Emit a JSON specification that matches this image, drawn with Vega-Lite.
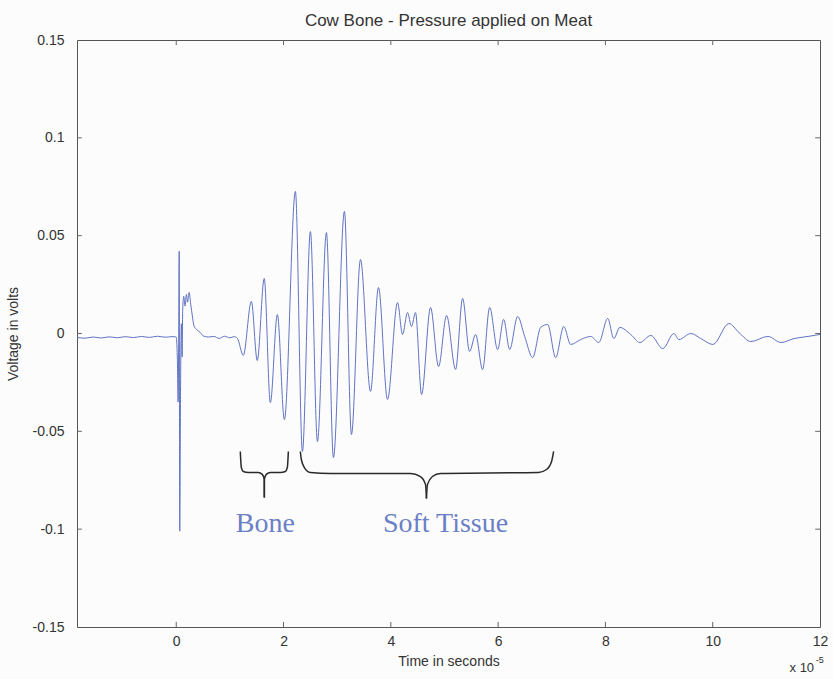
{
  "$schema": "https://vega.github.io/schema/vega-lite/v6.json",
  "width": 743,
  "height": 587,
  "autosize": "none",
  "padding": {"left": 77, "top": 40, "right": 13, "bottom": 52},
  "background": "#fcfcfc",
  "config": {
    "view": {"stroke": "#555555", "strokeWidth": 1},
    "axis": {
      "labelFont": "Liberation Sans",
      "titleFont": "Liberation Sans",
      "labelFontSize": 14,
      "titleFontSize": 14,
      "labelColor": "#333333",
      "titleColor": "#333333",
      "titleFontWeight": "normal",
      "domain": false,
      "grid": false,
      "ticks": false
    }
  },
  "title": {
    "text": "Cow Bone - Pressure applied on Meat",
    "font": "Liberation Sans",
    "fontSize": 17,
    "fontWeight": "normal",
    "color": "#333333",
    "offset": 3
  },
  "datasets": {
    "signal": [
      {"t": -1.85, "v": -0.0020}, {"t": -1.7, "v": -0.0024}, {"t": -1.55, "v": -0.0018},
      {"t": -1.4, "v": -0.0023}, {"t": -1.25, "v": -0.0017}, {"t": -1.1, "v": -0.0022},
      {"t": -0.95, "v": -0.0016}, {"t": -0.8, "v": -0.0021}, {"t": -0.65, "v": -0.0015},
      {"t": -0.5, "v": -0.0020}, {"t": -0.35, "v": -0.0014}, {"t": -0.2, "v": -0.0019},
      {"t": -0.08, "v": -0.0016}, {"t": 0.0, "v": -0.0018},
      {"t": 0.02, "v": -0.012}, {"t": 0.035, "v": -0.035}, {"t": 0.045, "v": -0.005},
      {"t": 0.055, "v": 0.042}, {"t": 0.065, "v": -0.101}, {"t": 0.08, "v": -0.03},
      {"t": 0.095, "v": 0.005}, {"t": 0.11, "v": -0.012}, {"t": 0.12, "v": 0.012},
      {"t": 0.14, "v": 0.019}, {"t": 0.165, "v": 0.014}, {"t": 0.19, "v": 0.020},
      {"t": 0.21, "v": 0.016}, {"t": 0.24, "v": 0.021}, {"t": 0.27, "v": 0.015},
      {"t": 0.3, "v": 0.009}, {"t": 0.33, "v": 0.004}, {"t": 0.38, "v": 0.002},
      {"t": 0.45, "v": 0.0005}, {"t": 0.5, "v": -0.0012}, {"t": 0.6, "v": -0.0018},
      {"t": 0.7, "v": -0.0015}, {"t": 0.8, "v": -0.0025}, {"t": 0.9, "v": -0.0014},
      {"t": 1.0, "v": -0.0022}, {"t": 1.08, "v": -0.0016}, {"t": 1.14, "v": -0.0025},
      {"t": 1.25, "v": -0.0112}, {"t": 1.40, "v": 0.0164}, {"t": 1.51, "v": -0.0138},
      {"t": 1.64, "v": 0.0281}, {"t": 1.754, "v": -0.0353}, {"t": 1.885, "v": 0.0097},
      {"t": 2.016, "v": -0.044}, {"t": 2.221, "v": 0.0726}, {"t": 2.352, "v": -0.0603},
      {"t": 2.501, "v": 0.0521}, {"t": 2.632, "v": -0.0552}, {"t": 2.80, "v": 0.0516},
      {"t": 2.93, "v": -0.0634}, {"t": 3.135, "v": 0.0624}, {"t": 3.266, "v": -0.0516},
      {"t": 3.434, "v": 0.0378}, {"t": 3.621, "v": -0.0296}, {"t": 3.77, "v": 0.0235},
      {"t": 3.938, "v": -0.0337}, {"t": 4.125, "v": 0.0158}, {"t": 4.218, "v": -0.0005},
      {"t": 4.311, "v": 0.0107}, {"t": 4.386, "v": 0.0036}, {"t": 4.46, "v": 0.0107},
      {"t": 4.573, "v": -0.0312}, {"t": 4.74, "v": 0.0133}, {"t": 4.89, "v": -0.0169},
      {"t": 5.039, "v": 0.0092}, {"t": 5.207, "v": -0.0184}, {"t": 5.338, "v": 0.0179},
      {"t": 5.468, "v": -0.0092}, {"t": 5.58, "v": -0.0005}, {"t": 5.711, "v": -0.0184},
      {"t": 5.842, "v": 0.0133}, {"t": 5.991, "v": -0.0082}, {"t": 6.103, "v": 0.0072},
      {"t": 6.215, "v": -0.0082}, {"t": 6.364, "v": 0.0087}, {"t": 6.495, "v": -0.0015},
      {"t": 6.644, "v": -0.0123}, {"t": 6.793, "v": 0.0031}, {"t": 6.924, "v": 0.0046},
      {"t": 7.073, "v": -0.0123}, {"t": 7.223, "v": 0.0036}, {"t": 7.353, "v": -0.0056},
      {"t": 7.54, "v": -0.0031}, {"t": 7.727, "v": -0.0015}, {"t": 7.876, "v": -0.0046},
      {"t": 8.044, "v": 0.0077}, {"t": 8.156, "v": -0.0026}, {"t": 8.268, "v": 0.0031},
      {"t": 8.473, "v": -0.0005}, {"t": 8.641, "v": -0.0046}, {"t": 8.847, "v": -0.001},
      {"t": 9.07, "v": -0.0077}, {"t": 9.276, "v": 0.0}, {"t": 9.369, "v": -0.0031},
      {"t": 9.593, "v": 0.0}, {"t": 9.78, "v": -0.0026}, {"t": 10.004, "v": -0.0056},
      {"t": 10.302, "v": 0.0051}, {"t": 10.489, "v": 0.0005}, {"t": 10.713, "v": -0.0041},
      {"t": 11.03, "v": -0.0015}, {"t": 11.273, "v": -0.0046}, {"t": 11.515, "v": -0.0026},
      {"t": 11.777, "v": -0.0015}, {"t": 12.0, "v": -0.0005}
    ],
    "braces": [
      {"part": "bone-l", "i": 0, "t": 1.194, "v": -0.0603},
      {"part": "bone-l", "i": 1, "t": 1.213, "v": -0.0685},
      {"part": "bone-l", "i": 2, "t": 1.25, "v": -0.0705},
      {"part": "bone-l", "i": 3, "t": 1.343, "v": -0.071},
      {"part": "bone-l", "i": 4, "t": 1.53, "v": -0.071},
      {"part": "bone-l", "i": 5, "t": 1.604, "v": -0.072},
      {"part": "bone-l", "i": 6, "t": 1.642, "v": -0.0746},
      {"part": "bone-l", "i": 7, "t": 1.642, "v": -0.0838},
      {"part": "bone-r", "i": 0, "t": 2.09, "v": -0.0603},
      {"part": "bone-r", "i": 1, "t": 2.071, "v": -0.0685},
      {"part": "bone-r", "i": 2, "t": 2.034, "v": -0.0705},
      {"part": "bone-r", "i": 3, "t": 1.94, "v": -0.071},
      {"part": "bone-r", "i": 4, "t": 1.754, "v": -0.071},
      {"part": "bone-r", "i": 5, "t": 1.679, "v": -0.072},
      {"part": "bone-r", "i": 6, "t": 1.642, "v": -0.0746},
      {"part": "bone-r", "i": 7, "t": 1.642, "v": -0.0838},
      {"part": "soft-l", "i": 0, "t": 2.313, "v": -0.0603},
      {"part": "soft-l", "i": 1, "t": 2.332, "v": -0.0644},
      {"part": "soft-l", "i": 2, "t": 2.388, "v": -0.0685},
      {"part": "soft-l", "i": 3, "t": 2.5, "v": -0.071},
      {"part": "soft-l", "i": 4, "t": 2.873, "v": -0.0715},
      {"part": "soft-l", "i": 5, "t": 4.366, "v": -0.0715},
      {"part": "soft-l", "i": 6, "t": 4.552, "v": -0.0731},
      {"part": "soft-l", "i": 7, "t": 4.646, "v": -0.0771},
      {"part": "soft-l", "i": 8, "t": 4.664, "v": -0.0843},
      {"part": "soft-r", "i": 0, "t": 7.034, "v": -0.0603},
      {"part": "soft-r", "i": 1, "t": 6.996, "v": -0.0654},
      {"part": "soft-r", "i": 2, "t": 6.903, "v": -0.0695},
      {"part": "soft-r", "i": 3, "t": 6.754, "v": -0.071},
      {"part": "soft-r", "i": 4, "t": 4.925, "v": -0.0715},
      {"part": "soft-r", "i": 5, "t": 4.776, "v": -0.0731},
      {"part": "soft-r", "i": 6, "t": 4.683, "v": -0.0771},
      {"part": "soft-r", "i": 7, "t": 4.664, "v": -0.0843}
    ],
    "xticks": [
      {"t": 0, "a": -0.15, "b": -0.1474}, {"t": 2, "a": -0.15, "b": -0.1474},
      {"t": 4, "a": -0.15, "b": -0.1474}, {"t": 6, "a": -0.15, "b": -0.1474},
      {"t": 8, "a": -0.15, "b": -0.1474}, {"t": 10, "a": -0.15, "b": -0.1474},
      {"t": 0, "a": 0.15, "b": 0.1474}, {"t": 2, "a": 0.15, "b": 0.1474},
      {"t": 4, "a": 0.15, "b": 0.1474}, {"t": 6, "a": 0.15, "b": 0.1474},
      {"t": 8, "a": 0.15, "b": 0.1474}, {"t": 10, "a": 0.15, "b": 0.1474}
    ],
    "yticks": [
      {"v": -0.1, "a": -1.85, "b": -1.76}, {"v": -0.05, "a": -1.85, "b": -1.76},
      {"v": 0, "a": -1.85, "b": -1.76}, {"v": 0.05, "a": -1.85, "b": -1.76},
      {"v": 0.1, "a": -1.85, "b": -1.76},
      {"v": -0.1, "a": 12, "b": 11.91}, {"v": -0.05, "a": 12, "b": 11.91},
      {"v": 0, "a": 12, "b": 11.91}, {"v": 0.05, "a": 12, "b": 11.91},
      {"v": 0.1, "a": 12, "b": 11.91}
    ],
    "notes": [
      {"t": 1.66, "v": -0.0976, "label": "Bone"},
      {"t": 5.02, "v": -0.0976, "label": "Soft Tissue"}
    ]
  },
  "layer": [
    {
      "data": {"name": "signal"},
      "mark": {"type": "line", "color": "#6074c4", "strokeWidth": 1, "interpolate": "monotone"},
      "encoding": {
        "x": {
          "field": "t", "type": "quantitative",
          "scale": {"domain": [-1.85, 12], "nice": false, "zero": false},
          "axis": {"title": "Time in seconds", "values": [0, 2, 4, 6, 8, 10, 12], "labelPadding": 7, "titlePadding": 6, "labelFlush": false}
        },
        "y": {
          "field": "v", "type": "quantitative",
          "scale": {"domain": [-0.15, 0.15], "nice": false, "zero": false},
          "axis": {"title": "Voltage in volts", "values": [-0.15, -0.1, -0.05, 0, 0.05, 0.1, 0.15], "labelExpr": "'' + datum.value", "labelPadding": 13, "titlePadding": 12, "labelFlush": false}
        }
      }
    },
    {
      "data": {"name": "xticks"},
      "mark": {"type": "rule", "color": "#666666", "strokeWidth": 1},
      "encoding": {
        "x": {"field": "t", "type": "quantitative"},
        "y": {"field": "a", "type": "quantitative"},
        "y2": {"field": "b"}
      }
    },
    {
      "data": {"name": "yticks"},
      "mark": {"type": "rule", "color": "#666666", "strokeWidth": 1},
      "encoding": {
        "y": {"field": "v", "type": "quantitative"},
        "x": {"field": "a", "type": "quantitative"},
        "x2": {"field": "b"}
      }
    },
    {
      "data": {"name": "braces"},
      "mark": {"type": "line", "color": "#2a2a2a", "strokeWidth": 1.5, "interpolate": "monotone"},
      "encoding": {
        "x": {"field": "t", "type": "quantitative"},
        "y": {"field": "v", "type": "quantitative"},
        "detail": {"field": "part"},
        "order": {"field": "i"}
      }
    },
    {
      "data": {"name": "notes"},
      "mark": {"type": "text", "font": "Liberation Serif", "fontSize": 28, "color": "#6a80c6", "align": "center", "baseline": "middle"},
      "encoding": {
        "x": {"field": "t", "type": "quantitative"},
        "y": {"field": "v", "type": "quantitative"},
        "text": {"field": "label"}
      }
    },
    {
      "data": {"values": [{"t": 11.89, "v": -0.1707, "label": "x 10"}]},
      "mark": {"type": "text", "font": "Liberation Sans", "fontSize": 13, "color": "#333333", "align": "right", "baseline": "middle"},
      "encoding": {
        "x": {"field": "t", "type": "quantitative"},
        "y": {"field": "v", "type": "quantitative"},
        "text": {"field": "label"}
      }
    },
    {
      "data": {"values": [{"t": 11.92, "v": -0.1668, "label": "-5"}]},
      "mark": {"type": "text", "font": "Liberation Sans", "fontSize": 9, "color": "#333333", "align": "left", "baseline": "middle"},
      "encoding": {
        "x": {"field": "t", "type": "quantitative"},
        "y": {"field": "v", "type": "quantitative"},
        "text": {"field": "label"}
      }
    }
  ]
}
